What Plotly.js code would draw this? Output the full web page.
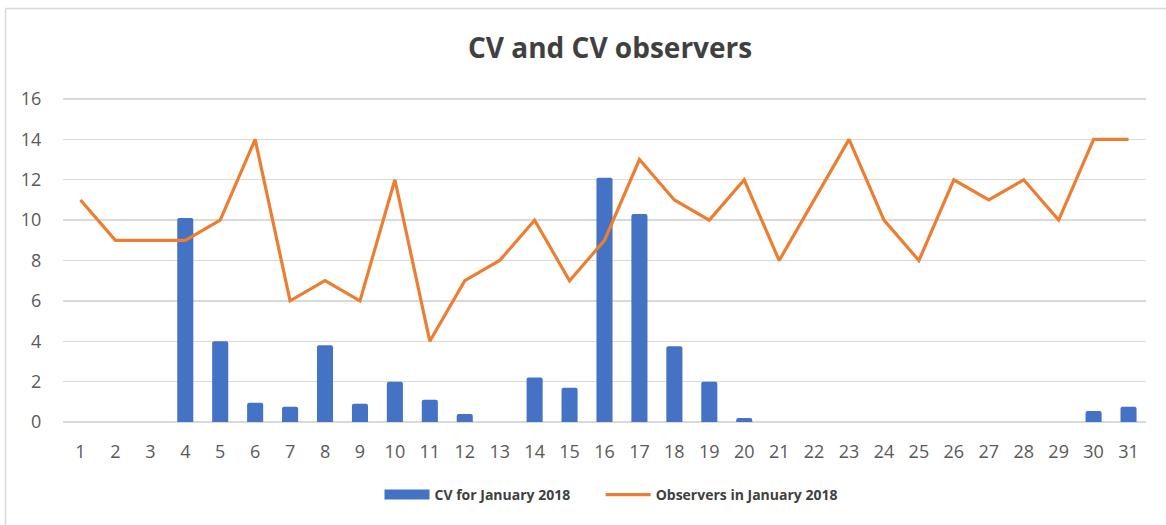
<!DOCTYPE html>
<html>
<head>
<meta charset="utf-8">
<script src="https://cdn.plot.ly/plotly-3.0.1.min.js"></script>
<style>html,body{margin:0;padding:0;background:#fff;}#chart{width:1166px;height:525px;}</style>
</head>
<body>
<div id="chart"></div>
<script>
const days = ["1","2","3","4","5","6","7","8","9","10","11","12","13","14","15","16","17","18","19","20","21","22","23","24","25","26","27","28","29","30","31"];
const cvValues = [0,0,0,10.1,4.0,0.95,0.75,3.8,0.9,2.0,1.1,0.4,0,2.2,1.7,12.1,10.3,3.75,2.0,0.2,0,0,0,0,0,0,0,0,0,0.55,0.75];
const observers = [11,9,9,9,10,14,6,7,6,12,4,7,8,10,7,9,13,11,10,12,8,11,14,10,8,12,11,12,10,14,14];
const yTicks = [0,2,4,6,8,10,12,14,16];
const seriesNames = ['CV for January 2018', 'Observers in January 2018'];

const L = 63, R = 1146, T = 98, B = 422, W = 1166, H = 525;
const pw = R - L, ph = B - T;
const fontFam = "'Open Sans', 'Noto Sans', sans-serif";
const barColor = '#4472C4', lineColor = '#ED7D31';
const pad = '\u00a0'.repeat(7);

const traces = [
  {
    type: 'bar', x: days, y: cvValues, name: seriesNames[0], showlegend: false,
    marker: {color: barColor, cornerradius: 2}, width: 0.46, hoverinfo: 'x+y'
  },
  {
    // legend stand-in for the bar series (wide rectangle swatch)
    type: 'scatter', mode: 'lines', x: [null], y: [null], name: seriesNames[0] + pad,
    line: {color: barColor, width: 11}, hoverinfo: 'skip'
  },
  {
    type: 'scatter', mode: 'lines', x: days, y: observers, name: seriesNames[1],
    line: {color: lineColor, width: 3.2, shape: 'linear'}, hoverinfo: 'x+y'
  }
];

const layout = {
  width: W, height: H,
  margin: {l: L, r: W - R, t: T, b: H - B, pad: 0},
  paper_bgcolor: '#ffffff', plot_bgcolor: '#ffffff',
  font: {family: fontFam, color: '#595959', size: 18},
  title: {
    text: '<b>CV and CV observers</b>',
    font: {family: fontFam, size: 28, color: '#404040'},
    x: 589 / W, xref: 'paper', xanchor: 'center',
    y: 1 - 48 / H, yanchor: 'middle'
  },
  xaxis: {
    type: 'category', tickvals: days, ticktext: days,
    showgrid: false, zeroline: false, showline: false,
    ticks: 'outside', ticklen: 13, tickcolor: 'rgba(0,0,0,0)',
    tickfont: {size: 18, color: '#595959'}, fixedrange: true
  },
  yaxis: {
    range: [0, 16.05], tickvals: yTicks, ticktext: yTicks.map(String),
    showgrid: true, gridcolor: '#d9d9d9', gridwidth: 1.3,
    zeroline: true, zerolinecolor: '#d9d9d9', zerolinewidth: 1.3,
    showline: false, ticks: 'outside', ticklen: 17, tickcolor: 'rgba(0,0,0,0)',
    tickfont: {size: 18, color: '#595959'}, fixedrange: true
  },
  bargap: 0.54,
  showlegend: true,
  legend: {
    orientation: 'h', x: 590 / W, xref: 'paper', xanchor: 'center',
    y: -(495 - B) / ph, yanchor: 'middle',
    font: {family: fontFam, size: 14, color: '#404040', weight: 'bold'},
    itemwidth: 45
  },
  shapes: [
    {type: 'line', xref: 'paper', yref: 'paper', x0: (5.5 - L) / pw, x1: (1170 - L) / pw, y0: (B - 8.5) / ph, y1: (B - 8.5) / ph, line: {color: '#d9d9d9', width: 1.5}},
    {type: 'line', xref: 'paper', yref: 'paper', x0: (5.5 - L) / pw, x1: (5.5 - L) / pw, y0: (B - 8.5) / ph, y1: (B - 530) / ph, line: {color: '#d9d9d9', width: 1.5}}
  ]
};

Plotly.newPlot('chart', traces, layout, {displayModeBar: false, staticPlot: true});
</script>
</body>
</html>
